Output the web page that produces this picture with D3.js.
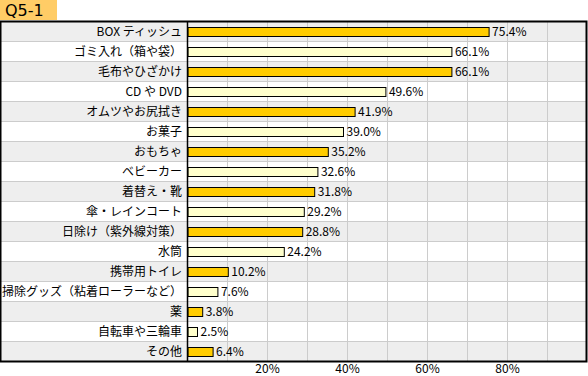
<!DOCTYPE html>
<html>
<head>
<meta charset="utf-8">
<script src="https://cdn.jsdelivr.net/npm/d3@7"></script>
<style>
  body { margin: 0; background: #fff; }
  text { font-family: "Noto Sans CJK JP", "DejaVu Sans", sans-serif; }
</style>
</head>
<body>
<div id="chart"></div>
<script>
const title = 'Q5-1';
const categories = [
    'BOX ティッシュ', 'ゴミ入れ（箱や袋）', '毛布やひざかけ', 'CD や DVD', 'オムツやお尻拭き',
    'お菓子', 'おもちゃ', 'ベビーカー', '着替え・靴', '傘・レインコート',
    '日除け（紫外線対策）', '水筒', '携帯用トイレ', '掃除グッズ（粘着ローラーなど）', '薬',
    '自転車や三輪車', 'その他'
];
const values = [75.4, 66.1, 66.1, 49.6, 41.9, 39.0, 35.2, 32.6, 31.8, 29.2, 28.8, 24.2, 10.2, 7.6, 3.8, 2.5, 6.4];
const gridTicks = [10, 20, 30, 40, 50, 60, 70, 80, 90];
const axisLabels = [20, 40, 60, 80];

const width = 588, height = 376;
const frame = { left: 0.5, top: 21.5, right: 586.5, bottom: 361.5 };
const axisX = 187.5;

const svg = d3.select('#chart')
    .append('svg')
    .attr('width', width)
    .attr('height', height);

const x = d3.scaleLinear()
    .domain([0, 100])
    .range([axisX, axisX + 400]);

const y = d3.scaleBand()
    .domain(categories)
    .range([frame.top, frame.bottom])
    .padding(0);

// title box
svg.append('rect')
    .attr('x', 0).attr('y', 0)
    .attr('width', 57).attr('height', 20)
    .attr('fill', '#FFCC66');
svg.append('text')
    .attr('x', 5).attr('y', 16)
    .attr('font-size', 16)
    .style('font-family', '"DejaVu Sans", sans-serif')
    .attr('fill', '#000')
    .text(title);

// row backgrounds
svg.append('g')
    .selectAll('rect')
    .data(categories)
    .enter()
    .append('rect')
    .attr('x', frame.left)
    .attr('y', d => y(d))
    .attr('width', frame.right - frame.left)
    .attr('height', y.bandwidth())
    .attr('fill', (d, i) => i % 2 === 0 ? '#EEEEEE' : '#FFFFFF');

// row separators
svg.append('g')
    .selectAll('line')
    .data(categories.slice(1))
    .enter()
    .append('line')
    .attr('x1', frame.left)
    .attr('x2', frame.right)
    .attr('y1', d => Math.round(y(d)) - 0.5)
    .attr('y2', d => Math.round(y(d)) - 0.5)
    .attr('stroke', '#CCCCCC');

// vertical grid
svg.append('g')
    .selectAll('line')
    .data(gridTicks)
    .enter()
    .append('line')
    .attr('x1', d => x(d))
    .attr('x2', d => x(d))
    .attr('y1', frame.top)
    .attr('y2', frame.bottom)
    .attr('stroke', '#CCCCCC');

// bars
svg.append('g')
    .selectAll('rect')
    .data(values)
    .enter()
    .append('rect')
    .attr('x', x(0) + 0.5)
    .attr('y', (d, i) => Math.round(y(categories[i]) + y.bandwidth() / 2 - 5) + 0.5)
    .attr('width', d => x(d) - x(0) - 0.5)
    .attr('height', 9)
    .attr('fill', (d, i) => i % 2 === 0 ? '#FFCC00' : '#FFFFCC')
    .attr('stroke', '#000')
    .attr('stroke-width', 1);

// value labels
svg.append('g')
    .selectAll('text')
    .data(values)
    .enter()
    .append('text')
    .attr('x', d => x(d) + 3)
    .attr('y', (d, i) => y(categories[i]) + y.bandwidth() / 2 + 4.5)
    .attr('font-size', 12)
    .attr('fill', '#000')
    .text(d => d.toFixed(1) + '%');

// category labels
svg.append('g')
    .selectAll('text')
    .data(categories)
    .enter()
    .append('text')
    .attr('x', 182)
    .attr('y', d => y(d) + y.bandwidth() / 2 + 4.5)
    .attr('text-anchor', 'end')
    .attr('font-size', 12)
    .attr('fill', '#000')
    .text(d => d);

// axis labels
svg.append('g')
    .selectAll('text')
    .data(axisLabels)
    .enter()
    .append('text')
    .attr('x', d => x(d))
    .attr('y', 373)
    .attr('text-anchor', 'middle')
    .attr('font-size', 12)
    .attr('fill', '#000')
    .text(d => d + '%');

// frame and value axis line
svg.append('rect')
    .attr('x', frame.left)
    .attr('y', frame.top)
    .attr('width', frame.right - frame.left)
    .attr('height', frame.bottom - frame.top)
    .attr('fill', 'none')
    .attr('stroke', '#000')
    .attr('stroke-width', 2);

svg.append('line')
    .attr('x1', axisX).attr('x2', axisX)
    .attr('y1', frame.top).attr('y2', frame.bottom)
    .attr('stroke', '#000')
    .attr('stroke-width', 1.5);
</script>
</body>
</html>
